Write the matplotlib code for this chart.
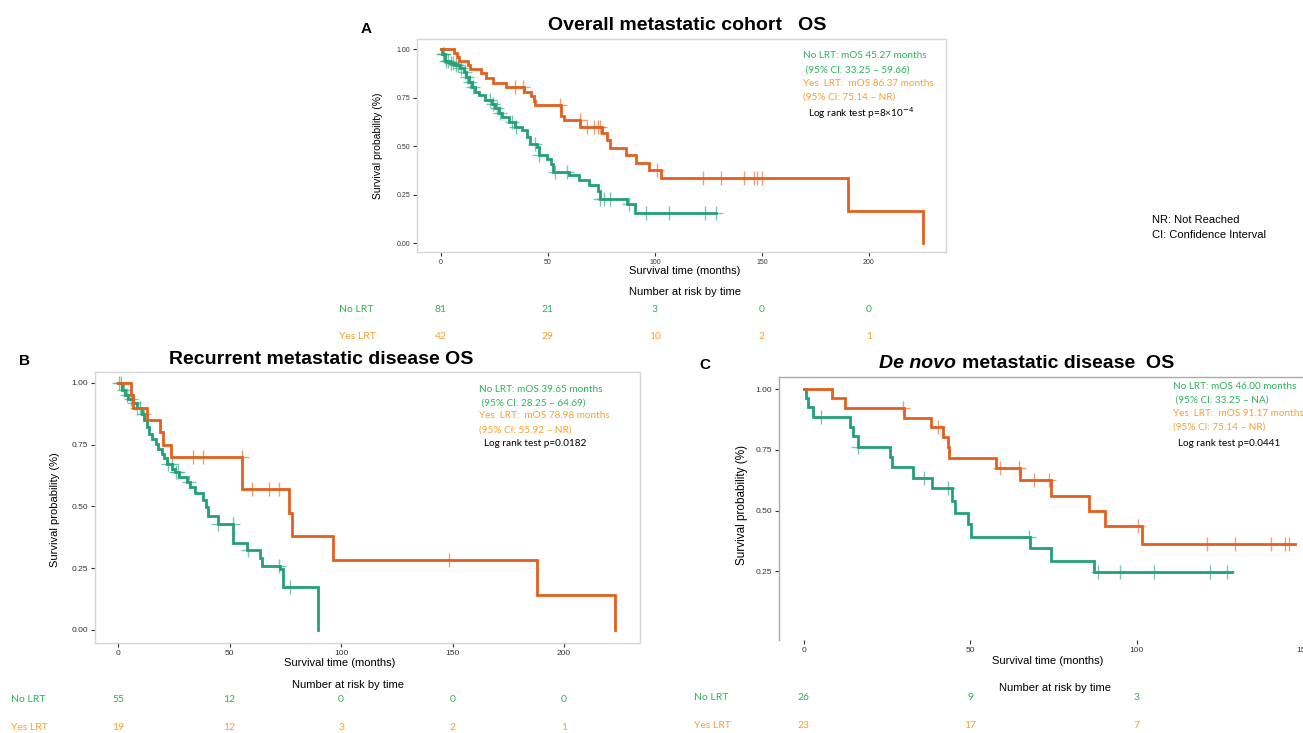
import numpy as np
import matplotlib
matplotlib.use("Agg")
import matplotlib.pyplot as plt
import matplotlib.transforms as mtransforms

W, H = 1303, 733

# ---- Panel A: overall metastatic cohort ----
a_no_t = [0, 0.5, 2.0, 4.4, 6.7, 9.0, 10.6, 11.8, 12.9, 14.5, 16.0, 17.6, 20.7, 23.8,
          25.4, 26.9, 28.5, 31.6, 34.7, 37.9, 40.2, 41.7, 44.9, 45.6, 49.5, 51.4, 52.3,
          59.7, 64.3, 69.0, 73.2, 74.5, 86.9, 90.8, 128.5]
a_no_s = [1.0, 0.975, 0.94, 0.927, 0.919, 0.90, 0.884, 0.858, 0.832, 0.807, 0.78, 0.762,
          0.737, 0.717, 0.694, 0.672, 0.648, 0.625, 0.60, 0.582, 0.547, 0.513, 0.496,
          0.453, 0.435, 0.409, 0.366, 0.349, 0.323, 0.297, 0.271, 0.228, 0.199, 0.155, 0.155]
a_no_cens = [0.8, 1.5, 2.5, 3.5, 4.5, 5.5, 7.0, 8.0, 9.5, 11.0, 12.0, 13.5, 15.0, 23.0,
             24.5, 26.0, 27.5, 33.0, 35.0, 44.0, 46.0, 53.5, 59.0, 74.5, 76.0, 79.0, 88.0,
             95.9, 106.4, 123.2, 128.5]
a_yes_t = [0, 6.2, 7.5, 8.4, 12.4, 13.7, 18.7, 21.2, 24.3, 30.5, 38.6, 42.1, 43.3, 44.1,
           56.1, 57.6, 65.1, 75.2, 77.6, 79.1, 86.6, 91.3, 97.0, 102.8, 190.0, 225.2]
a_yes_s = [1.0, 0.979, 0.959, 0.938, 0.917, 0.895, 0.876, 0.850, 0.827, 0.807, 0.780,
           0.760, 0.730, 0.710, 0.656, 0.634, 0.600, 0.565, 0.530, 0.490, 0.452, 0.415,
           0.378, 0.335, 0.166, 0.0]
a_yes_cens = [34.5, 38.5, 55.8, 65.0, 68.2, 71.3, 73.2, 74.1, 100.9, 122.4, 131.0, 141.7,
              146.4, 147.5, 149.8]
a_risk_t = [0, 50, 100, 150, 200]
a_risk_no = [81, 21, 3, 0, 0]
a_risk_yes = [42, 29, 10, 2, 1]
a_text = ["No LRT: mOS 45.27 months", " (95% CI: 33.25 \u2013 59.66)",
          "Yes  LRT:  mOS 86.37 months", "(95% CI: 75.14 \u2013 NR)",
          "Log rank test p=8\u00d710$^{-4}$"]

# ---- Panel B: recurrent metastatic disease ----
b_no_t = [0, 1.6, 3.1, 4.6, 6.6, 8.4, 10.6, 11.7, 12.9, 14.1, 15.1, 17.0, 18.1, 19.6,
          20.6, 22.1, 24.1, 25.6, 27.5, 30.8, 32.3, 34.5, 38.3, 39.5, 40.5, 45.0, 51.7,
          57.7, 63.7, 64.4, 72.6, 73.8, 74.1, 89.8]
b_no_s = [1.0, 0.97, 0.95, 0.936, 0.918, 0.90, 0.875, 0.848, 0.82, 0.795, 0.774, 0.754,
          0.734, 0.714, 0.694, 0.673, 0.653, 0.64, 0.62, 0.60, 0.579, 0.555, 0.525, 0.498,
          0.46, 0.428, 0.353, 0.323, 0.292, 0.26, 0.245, 0.209, 0.175, 0.0]
b_no_cens = [0.5, 1.5, 2.5, 4.0, 6.0, 7.0, 8.5, 10.0, 11.5, 22.5, 24.0, 26.0, 27.0, 32.0,
             45.0, 51.5, 58.5, 72.0, 77.0]
b_yes_t = [0, 5.7, 6.6, 13.2, 18.8, 20.3, 23.6, 55.5, 76.8, 77.9, 96.3, 188.0, 223.0]
b_yes_s = [1.0, 0.949, 0.90, 0.848, 0.80, 0.747, 0.698, 0.572, 0.474, 0.381, 0.283, 0.14, 0.0]
b_yes_cens = [33.5, 38.0, 55.4, 59.9, 67.9, 72.2, 148.6]
b_risk_t = [0, 50, 100, 150, 200]
b_risk_no = [55, 12, 0, 0, 0]
b_risk_yes = [19, 12, 3, 2, 1]
b_text = ["No LRT: mOS 39.65 months", " (95% CI: 28.25 \u2013 64.69)",
          "Yes  LRT:  mOS 78.98 months", "(95% CI: 55.92 \u2013 NR)",
          "Log rank test p=0.0182"]

# ---- Panel C: de novo metastatic disease ----
c_no_t = [0, 0.6, 1.3, 2.6, 13.8, 14.6, 16.1, 25.9, 26.4, 32.7, 38.5, 44.5, 45.5, 49.2,
          50.2, 67.9, 74.4, 87.1, 128.6]
c_no_s = [1.0, 0.963, 0.926, 0.885, 0.843, 0.805, 0.761, 0.72, 0.679, 0.633, 0.592,
          0.541, 0.492, 0.445, 0.393, 0.345, 0.294, 0.247, 0.247]
c_no_cens = [5.1, 16.1, 36.2, 43.4, 67.7, 88.3, 95.0, 105.1, 122.0, 127.1]
c_yes_t = [0, 8.3, 12.3, 30.2, 38.2, 41.7, 43.2, 43.7, 57.7, 64.9, 74.4, 85.6, 90.4,
           101.6, 147.5]
c_yes_s = [1.0, 0.963, 0.922, 0.883, 0.843, 0.802, 0.76, 0.718, 0.674, 0.624, 0.56,
           0.499, 0.437, 0.363, 0.363]
c_yes_cens = [29.9, 40.4, 59.0, 64.5, 69.2, 73.6, 100.4, 121.0, 129.7, 140.3, 144.7, 145.8]
c_risk_t = [0, 50, 100]
c_risk_no = [26, 9, 3]
c_risk_yes = [23, 17, 7]
c_text = ["No LRT: mOS 46.00 months", " (95% CI: 33.25 \u2013 NA)",
          "Yes  LRT:  mOS 91.17 months", "(95% CI: 75.14 \u2013 NR)",
          "Log rank test p=0.0441"]

GREEN, ORANGE = "#24a079", "#e2601f"
TGREEN, TORANGE = "#2db35a", "#f9a02c"
ARIAL = "Liberation Sans"
CAL = "Lato"


def fx(x):
    return x / W


def fy(y):
    return 1 - y / H


def km(ax, t, s, cens, color):
    t = np.asarray(t)
    s = np.asarray(s)
    ax.step(t, s, where="post", color=color, lw=2.0, solid_joinstyle="miter")
    idx = np.searchsorted(t, cens, side="right") - 1
    ax.plot(cens, s[idx], ls="none", marker="+", ms=10, mew=1.0, color=color, alpha=0.6)


def panel(box, xlim, ylim, yticks, xticks, tick_fs, spine_col, spines=("left", "right", "top", "bottom")):
    l, t, r, b = box
    ax = fig.add_axes([fx(l), fy(b), fx(r - l), (b - t) / H])
    ax.set_xlim(*xlim)
    ax.set_ylim(*ylim)
    ax.set_yticks(yticks)
    ax.set_yticklabels(["%.2f" % v for v in yticks])
    ax.set_xticks(xticks)
    for sp in ax.spines:
        ax.spines[sp].set_visible(sp in spines)
        ax.spines[sp].set_color(spine_col)
        ax.spines[sp].set_linewidth(1.0)
    ax.tick_params(labelsize=tick_fs, length=3, width=0.8, color="#333333",
                   labelcolor="#333333", pad=2)
    for lab in ax.get_xticklabels() + ax.get_yticklabels():
        lab.set_family(ARIAL)
    return ax


def annot(x, ys, lines, fs):
    cols = [TGREEN, TGREEN, TORANGE, TORANGE, "black"]
    for i, (line, c) in enumerate(zip(lines, cols)):
        xx = x + (5 if i == 4 else 0)
        fig.text(fx(xx), fy(ys[i]), line, color=c, fontsize=fs, family=CAL, va="center")


def risk(ax, label_x, y_no, y_yes, times, no, yes, fs):
    tr = mtransforms.blended_transform_factory(ax.transData, fig.transFigure)
    fig.text(fx(label_x), fy(y_no), "No LRT", color=TGREEN, fontsize=fs, family=CAL, va="center")
    fig.text(fx(label_x), fy(y_yes), "Yes LRT", color=TORANGE, fontsize=fs, family=CAL, va="center")
    for tt, n1, n2 in zip(times, no, yes):
        ax.text(tt, fy(y_no), str(n1), transform=tr, color=TGREEN, fontsize=fs,
                family=CAL, ha="center", va="center")
        ax.text(tt, fy(y_yes), str(n2), transform=tr, color=TORANGE, fontsize=fs,
                family=CAL, ha="center", va="center")


fig = plt.figure(figsize=(W / 100, H / 100), dpi=100)

yt = [0.0, 0.25, 0.5, 0.75, 1.0]

# Panel A
axA = panel((417, 39, 946, 252), (-11.2, 236), (-0.046, 1.052), yt, [0, 50, 100, 150, 200],
            5, "#d6d6d6")
km(axA, a_no_t, a_no_s, a_no_cens, GREEN)
km(axA, a_yes_t, a_yes_s, a_yes_cens, ORANGE)
fig.text(fx(366), fy(29), "A", fontsize=11, weight="bold", family=ARIAL, ha="center", va="center")
fig.text(fx(687), fy(25), "Overall metastatic cohort   OS", fontsize=14, weight="bold",
         family=ARIAL, ha="center", va="center")
fig.text(fx(378), fy(146), "Survival probability (%)", rotation=90, fontsize=7.5,
         family=ARIAL, ha="center", va="center")
fig.text(fx(685), fy(271), "Survival time (months)", fontsize=8, family=ARIAL, ha="center", va="center")
fig.text(fx(685), fy(292), "Number at risk by time", fontsize=8, family=ARIAL, ha="center", va="center")
annot(803, [56, 70, 83, 97, 113], a_text, 7.2)
risk(axA, 339, 310, 337, a_risk_t, a_risk_no, a_risk_yes, 7.5)
fig.text(fx(1152), fy(220), "NR: Not Reached", fontsize=8, family=ARIAL, va="center")
fig.text(fx(1152), fy(235), "CI: Confidence Interval", fontsize=8, family=ARIAL, va="center")

# Panel B
axB = panel((95, 372, 640, 643), (-10.3, 234), (-0.053, 1.044), yt, [0, 50, 100, 150, 200],
            6, "#d6d6d6")
km(axB, b_no_t, b_no_s, b_no_cens, GREEN)
km(axB, b_yes_t, b_yes_s, b_yes_cens, ORANGE)
fig.text(fx(24), fy(361), "B", fontsize=11, weight="bold", family=ARIAL, ha="center", va="center")
fig.text(fx(321), fy(359), "Recurrent metastatic disease OS", fontsize=14, weight="bold",
         family=ARIAL, ha="center", va="center")
fig.text(fx(55), fy(510), "Survival probability (%)", rotation=90, fontsize=8,
         family=ARIAL, ha="center", va="center")
fig.text(fx(340), fy(663), "Survival time (months)", fontsize=8, family=ARIAL, ha="center", va="center")
fig.text(fx(348), fy(685), "Number at risk by time", fontsize=8, family=ARIAL, ha="center", va="center")
annot(479, [389, 403, 415, 430, 444], b_text, 7.2)
risk(axB, 11, 700, 727, b_risk_t, b_risk_no, b_risk_yes, 7.5)

# Panel C
axC = panel((779, 377, 1303, 640), (-7.5, 149.4), (-0.033, 1.05), [0.25, 0.5, 0.75, 1.0],
            [0, 50, 100, 150], 6, "#aaaaaa", spines=("left", "top"))
km(axC, c_no_t, c_no_s, c_no_cens, GREEN)
km(axC, c_yes_t, c_yes_s, c_yes_cens, ORANGE)
fig.text(fx(705), fy(365), "C", fontsize=11, weight="bold", family=ARIAL, ha="center", va="center")
fig.text(fx(956), fy(363), "De novo", fontsize=14, weight="bold", style="italic",
         family=ARIAL, ha="right", va="center")
fig.text(fx(962), fy(363), "metastatic disease  OS", fontsize=14, weight="bold",
         family=ARIAL, ha="left", va="center")
fig.text(fx(742), fy(505), "Survival probability (%)", rotation=90, fontsize=8.5,
         family=ARIAL, ha="center", va="center")
fig.text(fx(1048), fy(661), "Survival time (months)", fontsize=8, family=ARIAL, ha="center", va="center")
fig.text(fx(1055), fy(688), "Number at risk by time", fontsize=8, family=ARIAL, ha="center", va="center")
annot(1173, [386, 400, 413, 427, 444], c_text, 7.2)
risk(axC, 694, 698, 725, c_risk_t, c_risk_no, c_risk_yes, 7.5)

fig.savefig("out.png", dpi=100)
